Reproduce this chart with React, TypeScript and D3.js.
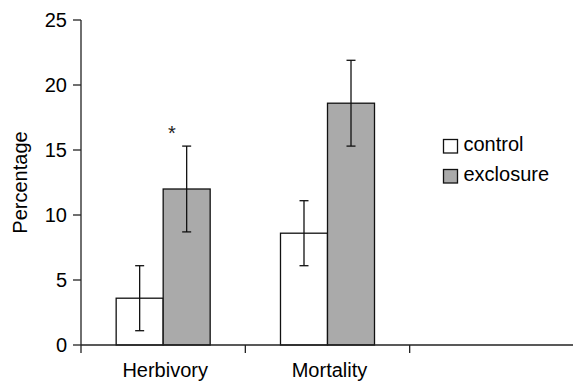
import React from "react";
import * as d3 from "d3";

const categories = ["Herbivory", "Mortality", ""];
const seriesNames = ["control", "exclosure"];
const controlMeans = [3.6, 8.6];
const controlErrors = [2.5, 2.5];
const exclosureMeans = [12.0, 18.6];
const exclosureErrors = [3.3, 3.3];
const yTicks = [0, 5, 10, 15, 20, 25];
const seriesFills = ["#ffffff", "#aaaaaa"];

const W = 573;
const H = 381;
const FONT = "'Liberation Sans', Arial, Helvetica, sans-serif";

export default function App() {
  const x0 = d3.scaleBand<string>().domain(categories).range([81, 574]).padding(0);
  const x1 = d3
    .scaleBand<string>()
    .domain(seriesNames)
    .range([0, x0.bandwidth()])
    .paddingInner(0)
    .paddingOuter(0.748);
  const y = d3.scaleLinear().domain([0, 25]).range([345, 20]);

  const series = [
    { name: "control", means: controlMeans, errs: controlErrors, fill: seriesFills[0] },
    { name: "exclosure", means: exclosureMeans, errs: exclosureErrors, fill: seriesFills[1] },
  ];

  const fs = 20;
  const axisColor = "#222";
  const cap = 4.5;

  return (
    <svg width={W} height={H} style={{ position: "absolute", left: 0, top: 0 }} fontFamily={FONT}>
      <rect x={0} y={0} width={W} height={H} fill="#fff" />
      {series.map((s) =>
        s.means.map((m, i) => {
          const bx = (x0(categories[i]) as number) + (x1(s.name) as number);
          return (
            <rect
              key={s.name + i}
              x={bx}
              y={y(m)}
              width={x1.bandwidth()}
              height={y(0) - y(m)}
              fill={s.fill}
              stroke="#111"
              strokeWidth={1.3}
            />
          );
        })
      )}
      {series.map((s) =>
        s.means.map((m, i) => {
          const cx = (x0(categories[i]) as number) + (x1(s.name) as number) + x1.bandwidth() / 2;
          const hi = y(m + s.errs[i]);
          const lo = y(m - s.errs[i]);
          return (
            <g key={"e" + s.name + i} stroke="#111" strokeWidth={1.3}>
              <line x1={cx} x2={cx} y1={hi} y2={lo} />
              <line x1={cx - cap} x2={cx + cap} y1={hi} y2={hi} />
              <line x1={cx - cap} x2={cx + cap} y1={lo} y2={lo} />
            </g>
          );
        })
      )}
      <text x={172} y={y(exclosureMeans[0] + exclosureErrors[0]) - 6} textAnchor="middle" fontSize={fs} fill="#222">
        *
      </text>
      <line x1={81} x2={81} y1={y(25)} y2={353} stroke={axisColor} strokeWidth={1.3} />
      {yTicks.map((t) => (
        <g key={t}>
          <line x1={73} x2={81} y1={y(t)} y2={y(t)} stroke={axisColor} strokeWidth={1.3} />
          <text x={67} y={y(t)} dy="0.36em" textAnchor="end" fontSize={fs} fill="#000">
            {t}
          </text>
        </g>
      ))}
      <line x1={81} x2={574} y1={y(0)} y2={y(0)} stroke={axisColor} strokeWidth={1.3} />
      {categories.slice(1).map((c, i) => {
        const tx = x0(categories[i + 1]) as number;
        return <line key={"t" + i} x1={tx} x2={tx} y1={y(0)} y2={353} stroke={axisColor} strokeWidth={1.3} />;
      })}
      {categories.map((c) => (
        <text
          key={"l" + c}
          x={(x0(c) as number) + x0.bandwidth() / 2 + 2}
          y={376.5}
          textAnchor="middle"
          fontSize={fs}
          fill="#000"
        >
          {c}
        </text>
      ))}
      <text
        transform={`translate(26.5, ${(y(0) + y(25)) / 2}) rotate(-90)`}
        textAnchor="middle"
        fontSize={fs}
        fill="#000"
      >
        Percentage
      </text>
      {seriesNames.map((n, i) => (
        <g key={"lg" + n} transform={`translate(443.5, ${139.5 + i * 30})`}>
          <rect x={0} y={0} width={14} height={13.5} fill={seriesFills[i]} stroke="#111" strokeWidth={1.3} />
          <text x={20} y={11.5} fontSize={fs} fill="#000">
            {n}
          </text>
        </g>
      ))}
    </svg>
  );
}
